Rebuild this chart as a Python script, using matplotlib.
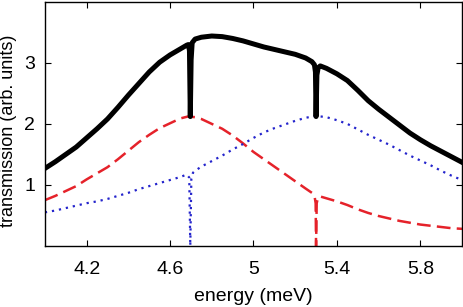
import numpy as np
import matplotlib
matplotlib.use("Agg")
import matplotlib.pyplot as plt

plt.rcParams['font.family'] = ['Liberation Sans', 'DejaVu Sans']

# total transmission (black)
e_tot = [4.00, 4.05, 4.10, 4.15, 4.20, 4.25, 4.30, 4.35, 4.40, 4.45, 4.50,
         4.55, 4.60, 4.65, 4.68, 4.688, 4.693, 4.697, 4.701, 4.706, 4.72,
         4.75, 4.80, 4.85, 4.90, 4.95, 5.00, 5.05, 5.10, 5.15, 5.20, 5.25,
         5.28, 5.292, 5.297, 5.300, 5.304, 5.31, 5.32, 5.35, 5.40, 5.45,
         5.50, 5.55, 5.60, 5.65, 5.70, 5.75, 5.80, 5.85, 5.90, 5.95, 6.00]
t_tot = [1.27, 1.38, 1.50, 1.62, 1.77, 1.92, 2.08, 2.27, 2.47, 2.66, 2.85,
         3.01, 3.13, 3.23, 3.29, 3.30, 3.20, 2.12, 3.05, 3.33, 3.39,
         3.42, 3.44, 3.43, 3.40, 3.36, 3.31, 3.26, 3.22, 3.18, 3.14, 3.08,
         3.02, 2.97, 2.85, 2.12, 2.80, 2.92, 2.95, 2.91, 2.82, 2.71,
         2.55, 2.38, 2.24, 2.11, 1.98, 1.85, 1.74, 1.64, 1.55, 1.46, 1.37]

# first channel (red dashed)
e_red = [4.00, 4.05, 4.10, 4.15, 4.20, 4.25, 4.30, 4.35, 4.40, 4.45, 4.50,
         4.55, 4.60, 4.65, 4.685, 4.72, 4.75, 4.80, 4.85, 4.90, 4.95, 5.00,
         5.05, 5.10, 5.15, 5.20, 5.25, 5.28, 5.292, 5.298, 5.300, 5.303,
         5.31, 5.32, 5.35, 5.40, 5.45, 5.50, 5.55, 5.60, 5.65, 5.70, 5.75,
         5.80, 5.85, 5.90, 5.95, 6.00]
t_red = [0.75, 0.82, 0.90, 0.98, 1.09, 1.19, 1.29, 1.42, 1.56, 1.70, 1.82,
         1.93, 2.01, 2.09, 2.12, 2.11, 2.08, 2.00, 1.92, 1.81, 1.68, 1.54,
         1.42, 1.30, 1.18, 1.06, 0.94, 0.87, 0.83, 0.70, 0.0, 0.70,
         0.80, 0.81, 0.78, 0.73, 0.67, 0.60, 0.54, 0.49, 0.45, 0.41, 0.38,
         0.35, 0.33, 0.31, 0.29, 0.28]

# second channel (blue dotted)
e_blue = [4.00, 4.05, 4.10, 4.15, 4.20, 4.25, 4.30, 4.35, 4.40, 4.45, 4.50,
          4.55, 4.60, 4.65, 4.68, 4.692, 4.697, 4.702, 4.71, 4.72, 4.75,
          4.80, 4.85, 4.90, 4.95, 5.00, 5.05, 5.10, 5.15, 5.20, 5.25, 5.30,
          5.35, 5.40, 5.45, 5.50, 5.55, 5.60, 5.65, 5.70, 5.75, 5.80, 5.85,
          5.90, 5.95, 6.00]
t_blue = [0.55, 0.58, 0.62, 0.66, 0.70, 0.73, 0.77, 0.82, 0.87, 0.93, 0.98,
          1.03, 1.08, 1.13, 1.17, 1.12, 0.0, 1.10, 1.20, 1.23, 1.30,
          1.39, 1.48, 1.58, 1.67, 1.77, 1.86, 1.93, 1.99, 2.05, 2.10, 2.13,
          2.11, 2.06, 2.00, 1.91, 1.82, 1.74, 1.66, 1.57, 1.48, 1.40, 1.32,
          1.23, 1.15, 1.08]

xticks = [4.2, 4.6, 5, 5.4, 5.8]
xticklabels = ['4.2', '4.6', '5', '5.4', '5.8']
yticks = [1, 2, 3]

fig = plt.figure(figsize=(4.63, 3.07), dpi=100)
ax = fig.add_axes([0.097, 0.199, 0.901, 0.795])

ax.plot(e_red, t_red, color='#e5222a', lw=1.8, ls=(0, (5.5, 2.5)))
ax.plot(e_blue, t_blue, color='#2424cc', lw=1.6, ls=(0, (1, 2.2)))
ax.plot(e_tot, t_tot, color='black', lw=3.6)

ax.set_xlim(4, 6)
ax.set_ylim(0, 4)
ax.set_xticks(xticks)
ax.set_xticklabels(xticklabels)
ax.set_yticks(yticks)
ax.tick_params(direction='in', length=4, width=0.8, top=True, right=True,
               labelsize=14)
ax.tick_params(axis='x', pad=11)
ax.tick_params(axis='y', pad=7)
for s in ax.spines.values():
    s.set_linewidth(1.0)

ax.set_xlabel('energy (meV)', fontsize=14, labelpad=7)
ax.set_ylabel('transmission (arb. units)', fontsize=13)
ax.yaxis.set_label_coords(-0.066, 0.47)

fig.savefig('out.png', dpi=100)
